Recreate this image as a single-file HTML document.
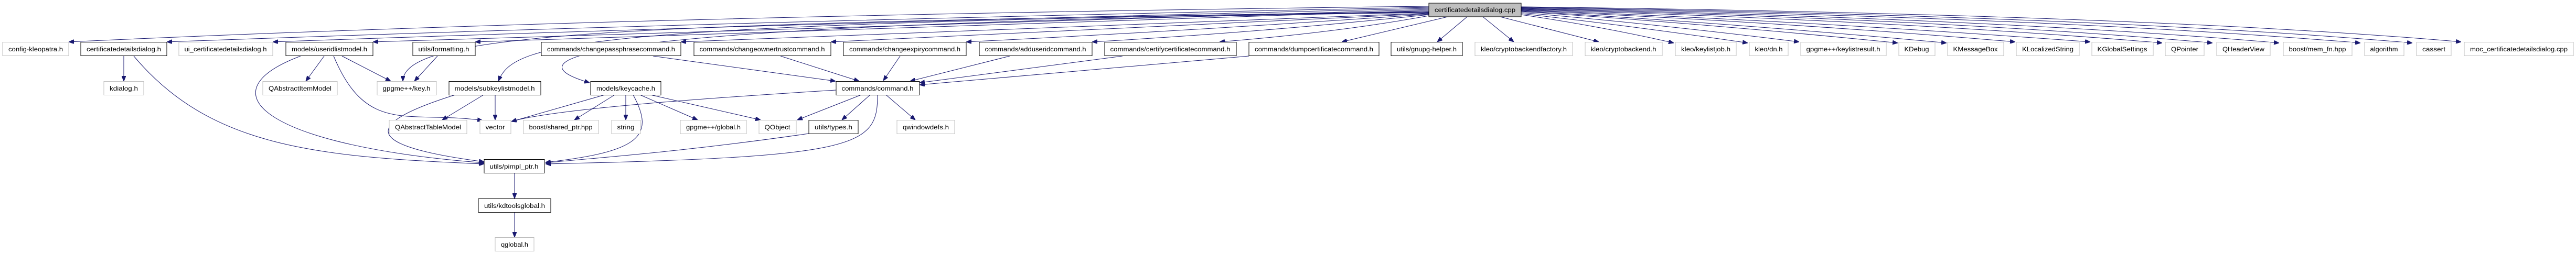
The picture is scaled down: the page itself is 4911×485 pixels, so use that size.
<!DOCTYPE html>
<html><head><meta charset="utf-8"><style>
html,body{margin:0;padding:0;background:#fff;}
svg{display:block;}
text{font-family:"Liberation Sans",sans-serif;font-size:11.5px;fill:#000;text-anchor:middle;}
.b{fill:#fff;stroke:#000;stroke-width:1;}
.g{fill:#fff;stroke:#bfbfbf;stroke-width:1;}
.e{fill:none;stroke:#191970;stroke-width:1;}
</style></head><body>
<svg width="4911" height="485" viewBox="0 0 4911 485" xmlns="http://www.w3.org/2000/svg">
<defs>
<marker id="a" markerWidth="10" markerHeight="8" refX="10" refY="4" orient="auto" markerUnits="userSpaceOnUse">
<path d="M0,0 L10,4 L0,8 Z" fill="#191970" stroke="#191970"/>
</marker>
</defs>
<g marker-end="url(#a)">
<!-- root to top row (left) -->
<path class="e" d="M2724,12 Q1200,30 131,80"/>
<path class="e" d="M2724,14 Q1400,40 318,80"/>
<path class="e" d="M2724,16 Q1500,45 520,80"/>
<path class="e" d="M2724,18 Q1600,50 711,80"/>
<path class="e" d="M2724,20 Q1700,55 906,80"/>
<path class="e" d="M2724,22 C1200,45 770,60 768,155"/>
<path class="e" d="M2724,23 C1100,45 980,80 950,155"/>
<path class="e" d="M2724,24 C1100,45 960,110 1124,158"/>
<path class="e" d="M2724,25 Q1900,55 1298,80"/>
<path class="e" d="M2724,26 Q2100,58 1584,80"/>
<path class="e" d="M2724,27 Q2250,60 1842,80"/>
<path class="e" d="M2724,28 Q2400,62 2082,80"/>
<path class="e" d="M2724,30 Q2550,62 2325,80"/>
<path class="e" d="M2760,32 L2558,80"/>
<path class="e" d="M2797,32 L2740,80"/>
<path class="e" d="M2827,32 L2886,80"/>
<path class="e" d="M2860,32 L3048,80"/>
<!-- root to right -->
<path class="e" d="M2900,28 Q3050,50 3191,82"/>
<path class="e" d="M2900,26 Q3100,48 3332,82"/>
<path class="e" d="M2900,24 Q3150,45 3430,80"/>
<path class="e" d="M2900,22 Q3250,45 3618,82"/>
<path class="e" d="M2900,21 Q3300,44 3711,82"/>
<path class="e" d="M2900,20 Q3400,42 3842,80"/>
<path class="e" d="M2900,19 Q3450,40 3985,80"/>
<path class="e" d="M2900,18 Q3600,38 4122,82"/>
<path class="e" d="M2900,17 Q3700,36 4218,82"/>
<path class="e" d="M2900,16 Q3800,35 4345,82"/>
<path class="e" d="M2900,15 Q3900,32 4500,82"/>
<path class="e" d="M2900,14 Q4000,30 4599,82"/>
<path class="e" d="M2900,13 Q4100,28 4692,80"/>
<!-- commands to command.h -->
<path class="e" d="M1245,107 L1593,155"/>
<path class="e" d="M1488,107 L1638,155"/>
<path class="e" d="M1716,107 L1684,154"/>
<path class="e" d="M1925,107 L1735,155"/>
<path class="e" d="M2140,107 L1753,158"/>
<path class="e" d="M2381,107 L1753,162"/>
<!-- certificatedetailsdialog.h -->
<path class="e" d="M236,107 L236,155"/>
<path class="e" d="M255,107 C400,280 600,300 923,313"/>
<!-- useridlistmodel -->
<path class="e" d="M618,107 L583,155"/>
<path class="e" d="M652,107 L745,155"/>
<path class="e" d="M636,107 C700,260 780,210 920,230"/>
<path class="e" d="M573,107 C380,180 520,280 923,311"/>
<!-- formatting -->
<path class="e" d="M834,107 L790,155"/>
<!-- subkeylistmodel -->
<path class="e" d="M922,181 L843,229"/>
<path class="e" d="M944,181 L944,229"/>
<path class="e" d="M868,181 C680,240 700,280 923,309"/>
<!-- keycache -->
<path class="e" d="M1153,181 L975,232"/>
<path class="e" d="M1172,181 L1095,229"/>
<path class="e" d="M1193,181 L1193,229"/>
<path class="e" d="M1220,181 L1330,229"/>
<path class="e" d="M1240,181 L1450,229"/>
<path class="e" d="M1207,181 C1250,260 1220,290 1040,310"/>
<!-- command.h -->
<path class="e" d="M1594,172 C1300,190 1050,210 975,232"/>
<path class="e" d="M1642,181 L1520,229"/>
<path class="e" d="M1659,181 L1605,229"/>
<path class="e" d="M1689,181 L1745,229"/>
<path class="e" d="M1673,181 C1673,280 1640,300 1040,313"/>
<path class="e" d="M1542,255 C1300,290 1150,300 1040,311"/>
<!-- pimpl chain -->
<path class="e" d="M981,330 L981,379"/>
<path class="e" d="M981,405 L981,453"/>
</g>
<!-- nodes -->
<rect x="2724" y="6" width="176" height="26" fill="#bfbfbf" stroke="#000"/><text x="2812" y="23" textLength="154" lengthAdjust="spacingAndGlyphs">certificatedetailsdialog.cpp</text>

<rect class="g" x="5" y="80.5" width="126" height="26"/><text x="68" y="98" textLength="104" lengthAdjust="spacingAndGlyphs">config-kleopatra.h</text>
<rect class="b" x="154" y="80.5" width="164" height="26"/><text x="236" y="98" textLength="142" lengthAdjust="spacingAndGlyphs">certificatedetailsdialog.h</text>
<rect class="g" x="341" y="80.5" width="179" height="26"/><text x="430" y="98" textLength="157" lengthAdjust="spacingAndGlyphs">ui_certificatedetailsdialog.h</text>
<rect class="b" x="545" y="80.5" width="166" height="26"/><text x="628" y="98" textLength="144" lengthAdjust="spacingAndGlyphs">models/useridlistmodel.h</text>
<rect class="b" x="787" y="80.5" width="119" height="26"/><text x="846" y="98" textLength="97" lengthAdjust="spacingAndGlyphs">utils/formatting.h</text>
<rect class="b" x="1032" y="80.5" width="266" height="26"/><text x="1165" y="98" textLength="244" lengthAdjust="spacingAndGlyphs">commands/changepassphrasecommand.h</text>
<rect class="b" x="1323" y="80.5" width="261" height="26"/><text x="1453" y="98" textLength="239" lengthAdjust="spacingAndGlyphs">commands/changeownertrustcommand.h</text>
<rect class="b" x="1608" y="80.5" width="234" height="26"/><text x="1725" y="98" textLength="212" lengthAdjust="spacingAndGlyphs">commands/changeexpirycommand.h</text>
<rect class="b" x="1867" y="80.5" width="215" height="26"/><text x="1974" y="98" textLength="193" lengthAdjust="spacingAndGlyphs">commands/adduseridcommand.h</text>
<rect class="b" x="2106" y="80.5" width="251" height="26"/><text x="2231" y="98" textLength="229" lengthAdjust="spacingAndGlyphs">commands/certifycertificatecommand.h</text>
<rect class="b" x="2381" y="80.5" width="248" height="26"/><text x="2505" y="98" textLength="226" lengthAdjust="spacingAndGlyphs">commands/dumpcertificatecommand.h</text>
<rect class="b" x="2652" y="80.5" width="136" height="26"/><text x="2720" y="98" textLength="114" lengthAdjust="spacingAndGlyphs">utils/gnupg-helper.h</text>
<rect class="g" x="2812" y="80.5" width="186" height="26"/><text x="2905" y="98" textLength="164" lengthAdjust="spacingAndGlyphs">kleo/cryptobackendfactory.h</text>
<rect class="g" x="3022" y="80.5" width="147" height="26"/><text x="3095" y="98" textLength="125" lengthAdjust="spacingAndGlyphs">kleo/cryptobackend.h</text>
<rect class="g" x="3194" y="80.5" width="116" height="26"/><text x="3252" y="98" textLength="94" lengthAdjust="spacingAndGlyphs">kleo/keylistjob.h</text>
<rect class="g" x="3335" y="80.5" width="74" height="26"/><text x="3372" y="98" textLength="53" lengthAdjust="spacingAndGlyphs">kleo/dn.h</text>
<rect class="g" x="3433" y="80.5" width="163" height="26"/><text x="3514" y="98" textLength="141" lengthAdjust="spacingAndGlyphs">gpgme++/keylistresult.h</text>
<rect class="g" x="3620" y="80.5" width="69" height="26"/><text x="3654" y="98" textLength="47" lengthAdjust="spacingAndGlyphs">KDebug</text>
<rect class="g" x="3713" y="80.5" width="107" height="26"/><text x="3766" y="98" textLength="85" lengthAdjust="spacingAndGlyphs">KMessageBox</text>
<rect class="g" x="3844" y="80.5" width="120" height="26"/><text x="3904" y="98" textLength="98" lengthAdjust="spacingAndGlyphs">KLocalizedString</text>
<rect class="g" x="3988" y="80.5" width="117" height="26"/><text x="4046" y="98" textLength="95" lengthAdjust="spacingAndGlyphs">KGlobalSettings</text>
<rect class="g" x="4128" y="80.5" width="74" height="26"/><text x="4165" y="98" textLength="52" lengthAdjust="spacingAndGlyphs">QPointer</text>
<rect class="g" x="4226" y="80.5" width="102" height="26"/><text x="4277" y="98" textLength="80" lengthAdjust="spacingAndGlyphs">QHeaderView</text>
<rect class="g" x="4353" y="80.5" width="131" height="26"/><text x="4418" y="98" textLength="109" lengthAdjust="spacingAndGlyphs">boost/mem_fn.hpp</text>
<rect class="g" x="4508" y="80.5" width="75" height="26"/><text x="4545" y="98" textLength="53" lengthAdjust="spacingAndGlyphs">algorithm</text>
<rect class="g" x="4607" y="80.5" width="66" height="26"/><text x="4640" y="98" textLength="44" lengthAdjust="spacingAndGlyphs">cassert</text>
<rect class="g" x="4698" y="80.5" width="208" height="26"/><text x="4802" y="98" textLength="186" lengthAdjust="spacingAndGlyphs">moc_certificatedetailsdialog.cpp</text>

<rect class="g" x="198" y="155.5" width="76" height="26"/><text x="236" y="173" textLength="54" lengthAdjust="spacingAndGlyphs">kdialog.h</text>
<rect class="g" x="501" y="155.5" width="142" height="26"/><text x="572" y="173" textLength="120" lengthAdjust="spacingAndGlyphs">QAbstractItemModel</text>
<rect class="g" x="719" y="155.5" width="113" height="26"/><text x="775" y="173" textLength="91" lengthAdjust="spacingAndGlyphs">gpgme++/key.h</text>
<rect class="b" x="856" y="155.5" width="175" height="26"/><text x="943" y="173" textLength="153" lengthAdjust="spacingAndGlyphs">models/subkeylistmodel.h</text>
<rect class="b" x="1126" y="155.5" width="134" height="26"/><text x="1193" y="173" textLength="112" lengthAdjust="spacingAndGlyphs">models/keycache.h</text>
<rect class="b" x="1594" y="155.5" width="159" height="26"/><text x="1673" y="173" textLength="137" lengthAdjust="spacingAndGlyphs">commands/command.h</text>

<rect class="g" x="742" y="229.5" width="148" height="26"/><text x="816" y="247" textLength="126" lengthAdjust="spacingAndGlyphs">QAbstractTableModel</text>
<rect class="g" x="915" y="229.5" width="59" height="26"/><text x="944" y="247" textLength="37" lengthAdjust="spacingAndGlyphs">vector</text>
<rect class="g" x="998" y="229.5" width="143" height="26"/><text x="1069" y="247" textLength="121" lengthAdjust="spacingAndGlyphs">boost/shared_ptr.hpp</text>
<rect class="g" x="1166" y="229.5" width="55" height="26"/><text x="1193" y="247" textLength="33" lengthAdjust="spacingAndGlyphs">string</text>
<rect class="g" x="1297" y="229.5" width="126" height="26"/><text x="1360" y="247" textLength="104" lengthAdjust="spacingAndGlyphs">gpgme++/global.h</text>
<rect class="g" x="1447" y="229.5" width="71" height="26"/><text x="1482" y="247" textLength="49" lengthAdjust="spacingAndGlyphs">QObject</text>
<rect class="b" x="1542" y="229.5" width="94" height="26"/><text x="1589" y="247" textLength="72" lengthAdjust="spacingAndGlyphs">utils/types.h</text>
<rect class="g" x="1710" y="229.5" width="110" height="26"/><text x="1765" y="247" textLength="88" lengthAdjust="spacingAndGlyphs">qwindowdefs.h</text>

<rect class="b" x="923" y="304.5" width="115" height="26"/><text x="980" y="322" textLength="93" lengthAdjust="spacingAndGlyphs">utils/pimpl_ptr.h</text>
<rect class="b" x="912" y="379.5" width="138" height="26"/><text x="981" y="397" textLength="116" lengthAdjust="spacingAndGlyphs">utils/kdtoolsglobal.h</text>
<rect class="g" x="944" y="453.5" width="74" height="26"/><text x="981" y="471" textLength="52" lengthAdjust="spacingAndGlyphs">qglobal.h</text>
</svg>
</body></html>
